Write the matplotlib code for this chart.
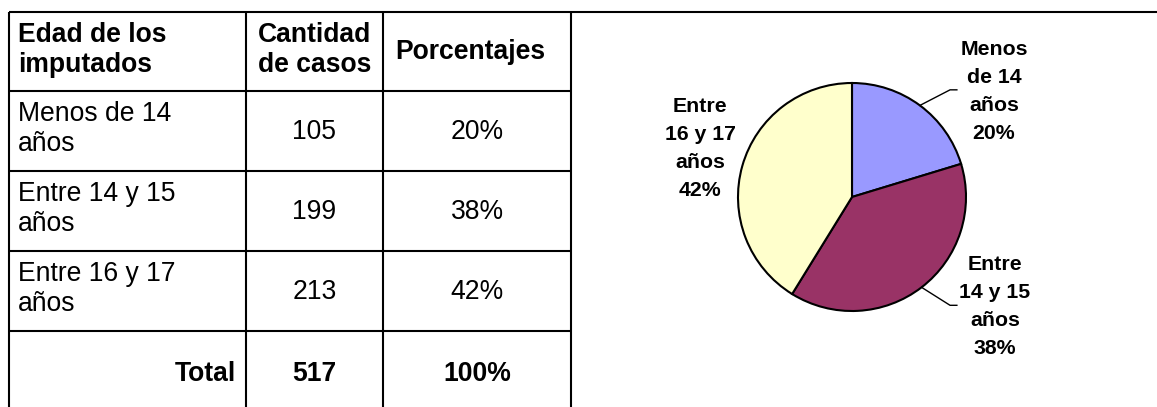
import numpy as np
import matplotlib
matplotlib.use("Agg")
import matplotlib.pyplot as plt

# Data
table_labels = ["Menos de 14\naños", "Entre 14 y 15\naños", "Entre 16 y 17\naños"]
pie_labels = ["Menos\nde 14\naños", "Entre\n14 y 15\naños", "Entre\n16 y 17\naños"]
casos = [105, 199, 213]
porcentajes = [20, 38, 42]
total_casos = 517
total_pct = 100
colors = ["#9999FF", "#993366", "#FFFFCC"]

plt.rcParams["font.family"] = ["Liberation Sans", "DejaVu Sans"]

W, H = 1157, 407
fig = plt.figure(figsize=(W / 100, H / 100), dpi=100)

# overlay axes in pixel coordinates for the table
ax = fig.add_axes([0, 0, 1, 1])
ax.set_xlim(0, W)
ax.set_ylim(H, 0)
ax.axis("off")

col_x = [9, 246, 383, 571]
row_y = [12, 91, 171, 251, 331]
lw = 1.5
fs = 19.1

# grid lines
ax.plot([col_x[0], W], [row_y[0], row_y[0]], color="black", lw=lw, solid_capstyle="butt")
for y in row_y[1:]:
    ax.plot([col_x[0], col_x[-1]], [y, y], color="black", lw=lw, solid_capstyle="butt")
for x in col_x:
    ax.plot([x, x], [row_y[0], H], color="black", lw=lw, solid_capstyle="butt")

# header (va="baseline" anchors the last line)
ax.text(18, 72, "Edad de los\nimputados", fontsize=fs, fontweight="bold",
        ha="left", va="baseline", linespacing=1.19)
ax.text((col_x[1] + col_x[2]) / 2, 72, "Cantidad\nde casos", fontsize=fs,
        fontweight="bold", ha="center", va="baseline", linespacing=1.19,
        multialignment="center")
ax.text(395, 59, "Porcentajes", fontsize=fs, fontweight="bold",
        ha="left", va="baseline")

# body rows
for i, (lab, n, p) in enumerate(zip(table_labels, casos, porcentajes)):
    top = row_y[i + 1]
    ax.text(18, top + 60, lab, fontsize=fs, ha="left", va="baseline", linespacing=1.19)
    ax.text((col_x[1] + col_x[2]) / 2, top + 48, str(n), fontsize=fs,
            ha="center", va="baseline")
    ax.text((col_x[2] + col_x[3]) / 2, top + 48, f"{p}%", fontsize=fs,
            ha="center", va="baseline")

# total row
top = row_y[4]
ax.text(236, top + 50, "Total", fontsize=fs, fontweight="bold", ha="right", va="baseline")
ax.text((col_x[1] + col_x[2]) / 2, top + 50, str(total_casos), fontsize=fs,
        fontweight="bold", ha="center", va="baseline")
ax.text((col_x[2] + col_x[3]) / 2, top + 50, f"{total_pct}%", fontsize=fs,
        fontweight="bold", ha="center", va="baseline")

# pie chart
cx, cy, r = 852, 197, 114
pax = fig.add_axes([(cx - r) / W, (H - cy - r) / H, 2 * r / W, 2 * r / H])
wedges, _ = pax.pie(casos, colors=colors, startangle=90, counterclock=False,
                    wedgeprops=dict(edgecolor="black", linewidth=1.5))
pax.set_xlim(-1, 1)
pax.set_ylim(-1, 1)
pax.set_aspect("equal")
pax.axis("off")

pfs = 15.3
# last-line baseline positions in pie units (1 unit = radius)
label_pos = [(1.246, (cy - 139) / r), (1.254, (cy - 354) / r), (-1.333, (cy - 196) / r)]
elbows = [(0.86, 0.94), (0.86, -0.95), None]
for w, lab, p, (tx, ty), elb in zip(wedges, pie_labels, porcentajes, label_pos, elbows):
    pax.text(tx, ty, f"{lab}\n{p}%", fontsize=pfs, fontweight="bold",
             ha="center", va="baseline", linespacing=1.6,
             multialignment="center")
    if elb is not None:
        mid = np.deg2rad((w.theta1 + w.theta2) / 2)
        pax.plot([np.cos(mid), elb[0], elb[0] + 0.06], [np.sin(mid), elb[1], elb[1]],
                 color="black", lw=1.0, clip_on=False)

fig.savefig("out.png", dpi=100)
